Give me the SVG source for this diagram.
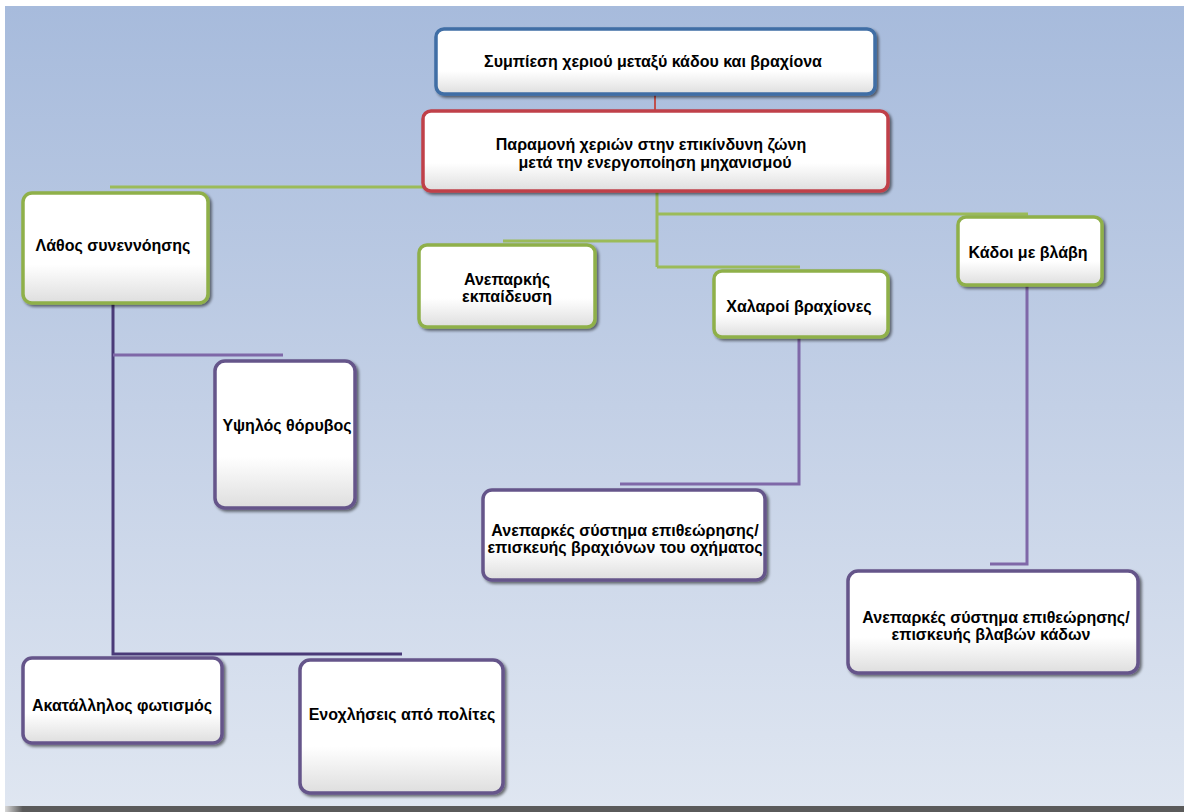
<svg xmlns="http://www.w3.org/2000/svg" width="1184" height="812" viewBox="0 0 1184 812">
<defs>
<linearGradient id="bg" x1="0" y1="0" x2="0" y2="1">
<stop offset="0" stop-color="#a7bbdc"/>
<stop offset="0.5" stop-color="#c3d0e6"/>
<stop offset="1" stop-color="#dfe6f1"/>
</linearGradient>
<linearGradient id="bar" x1="0" y1="0" x2="1" y2="0">
<stop offset="0" stop-color="#d8d8d8"/>
<stop offset="0.015" stop-color="#5a5a5a"/>
<stop offset="1" stop-color="#5a5a5a"/>
</linearGradient>
<linearGradient id="boxfill" x1="0" y1="0" x2="0" y2="1">
<stop offset="0" stop-color="#ffffff"/>
<stop offset="0.65" stop-color="#ffffff"/>
<stop offset="1" stop-color="#dedede"/>
</linearGradient>
<filter id="sh" x="-10%" y="-10%" width="120%" height="130%">
<feGaussianBlur in="SourceAlpha" stdDeviation="1.5"/>
<feOffset dx="2" dy="2" result="b"/>
<feComponentTransfer><feFuncA type="linear" slope="0.55"/></feComponentTransfer>
<feMerge><feMergeNode/><feMergeNode in="SourceGraphic"/></feMerge>
</filter>
</defs>
<style>
.box{fill:url(#boxfill);stroke-width:3.5;filter:url(#sh)}
.blue{stroke:#3f6ea5}
.red{stroke:#c0404a}
.green{stroke:#8fb04a}
.purple{stroke:#65558a}
.t{font-family:"Liberation Sans",Arial,sans-serif;font-weight:bold;font-size:16px;fill:#000;text-anchor:middle}
.cg{stroke:#9bbb59;stroke-width:3;fill:none}
.cp{stroke:#7f68a8;stroke-width:3;fill:none}
.cpd{stroke:#4a3a78;stroke-width:3;fill:none}
.cr{stroke:#c0504d;stroke-width:2;fill:none}
</style>
<rect x="0" y="0" width="1184" height="812" fill="#ffffff"/>
<rect x="5" y="6" width="1179" height="800" fill="url(#bg)"/>
<rect x="5" y="806" width="1179" height="6" fill="url(#bar)"/>

<g id="connectors">
<path class="cr" d="M655 95 V111"/>
<path class="cg" d="M110 187 H425"/>
<path class="cg" d="M657 191 V267"/>
<path class="cg" d="M657 214 H1028"/>
<path class="cg" d="M503 241 H657"/>
<path class="cg" d="M657 267 H800"/>
<path class="cpd" d="M113 304 V654 H402"/>
<path class="cp" d="M113 355 H283"/>
<path class="cp" d="M799 338 V484 H620"/>
<path class="cp" d="M1027 286 V564 H990"/>
</g>

<g id="n1">
<rect class="box blue" x="436" y="29" width="439" height="65" rx="8"/>
<text class="t" x="653" y="67">Συμπίεση χεριού μεταξύ κάδου και βραχίονα</text>
</g>
<g id="n2">
<rect class="box red" x="423" y="111" width="465" height="80" rx="8"/>
<text class="t" x="651" y="150">Παραμονή χεριών στην επικίνδυνη ζώνη</text>
<text class="t" x="655" y="168">μετά την ενεργοποίηση μηχανισμού</text>
</g>
<g id="n3">
<rect class="box green" x="23" y="193" width="185" height="110" rx="9"/>
<text class="t" x="113" y="251">Λάθος συνεννόησης</text>
</g>
<g id="n4">
<rect class="box green" x="419" y="245" width="176" height="82" rx="8"/>
<text class="t" x="507" y="285">Ανεπαρκής</text>
<text class="t" x="507" y="302">εκπαίδευση</text>
</g>
<g id="n5">
<rect class="box green" x="714" y="271" width="174" height="66" rx="8"/>
<text class="t" x="799" y="312">Χαλαροί βραχίονες</text>
</g>
<g id="n6">
<rect class="box green" x="958" y="217" width="144" height="68" rx="8"/>
<text class="t" x="1028" y="258">Κάδοι με βλάβη</text>
</g>
<g id="n7">
<rect class="box purple" x="215" y="361" width="140" height="147" rx="10"/>
<text class="t" x="287" y="431">Υψηλός θόρυβος</text>
</g>
<g id="n8">
<rect class="box purple" x="483" y="490" width="282" height="90" rx="9"/>
<text class="t" x="625" y="536">Ανεπαρκές σύστημα επιθεώρησης/</text>
<text class="t" x="625" y="553">επισκευής βραχιόνων του οχήματος</text>
</g>
<g id="n9">
<rect class="box purple" x="848" y="571" width="290" height="102" rx="10"/>
<text class="t" x="996" y="623">Ανεπαρκές σύστημα επιθεώρησης/</text>
<text class="t" x="991" y="640">επισκευής βλαβών κάδων</text>
</g>
<g id="n10">
<rect class="box purple" x="23" y="658" width="199" height="85" rx="9"/>
<text class="t" x="122" y="711">Ακατάλληλος φωτισμός</text>
</g>
<g id="n11">
<rect class="box purple" x="300" y="660" width="203" height="133" rx="10"/>
<text class="t" x="402" y="720">Ενοχλήσεις από πολίτες</text>
</g>
</svg>
